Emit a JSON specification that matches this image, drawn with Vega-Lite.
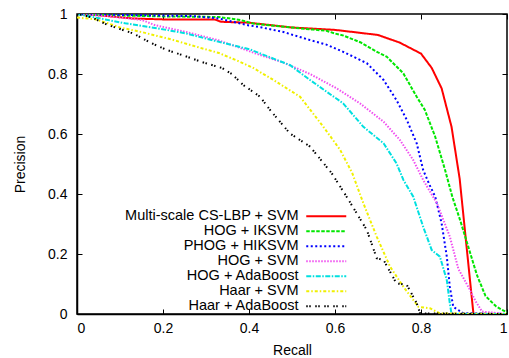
{
  "$schema": "https://vega.github.io/schema/vega-lite/v6.json",
  "width": 430,
  "height": 300,
  "autosize": {"type": "none"},
  "padding": {"left": 77, "top": 14, "right": 2, "bottom": 44},
  "background": "white",
  "config": {
    "font": "Liberation Sans",
    "view": {"stroke": "black", "strokeWidth": 1.5},
    "axis": {
      "grid": false,
      "labelFont": "Liberation Sans",
      "labelFontSize": 14,
      "labelColor": "black",
      "titleFont": "Liberation Sans",
      "titleFontSize": 14,
      "titleFontWeight": "normal",
      "titleColor": "black",
      "tickColor": "black",
      "tickSize": -5,
      "tickWidth": 1,
      "domainColor": "black",
      "domainWidth": 1.5
    },
    "legend": {
      "labelFont": "Liberation Sans",
      "labelFontSize": 14.5,
      "labelColor": "black",
      "labelLimit": 400,
      "labelAlign": "right",
      "labelOffset": -35,
      "symbolType": "M-4,0H4",
      "symbolSize": 100,
      "rowPadding": 0,
      "padding": 0
    }
  },
  "data": {
    "values": [
      {"method": "Multi-scale CS-LBP + SVM", "recall": 0, "precision": 1},
      {"method": "Multi-scale CS-LBP + SVM", "recall": 0.05, "precision": 0.996},
      {"method": "Multi-scale CS-LBP + SVM", "recall": 0.13, "precision": 0.985},
      {"method": "Multi-scale CS-LBP + SVM", "recall": 0.2, "precision": 0.982},
      {"method": "Multi-scale CS-LBP + SVM", "recall": 0.32, "precision": 0.982},
      {"method": "Multi-scale CS-LBP + SVM", "recall": 0.335, "precision": 0.974},
      {"method": "Multi-scale CS-LBP + SVM", "recall": 0.4, "precision": 0.971},
      {"method": "Multi-scale CS-LBP + SVM", "recall": 0.45, "precision": 0.963},
      {"method": "Multi-scale CS-LBP + SVM", "recall": 0.5, "precision": 0.955},
      {"method": "Multi-scale CS-LBP + SVM", "recall": 0.55, "precision": 0.951},
      {"method": "Multi-scale CS-LBP + SVM", "recall": 0.6, "precision": 0.947},
      {"method": "Multi-scale CS-LBP + SVM", "recall": 0.63, "precision": 0.942},
      {"method": "Multi-scale CS-LBP + SVM", "recall": 0.66, "precision": 0.937},
      {"method": "Multi-scale CS-LBP + SVM", "recall": 0.7, "precision": 0.93},
      {"method": "Multi-scale CS-LBP + SVM", "recall": 0.75, "precision": 0.905},
      {"method": "Multi-scale CS-LBP + SVM", "recall": 0.8, "precision": 0.868},
      {"method": "Multi-scale CS-LBP + SVM", "recall": 0.825, "precision": 0.82},
      {"method": "Multi-scale CS-LBP + SVM", "recall": 0.848, "precision": 0.752},
      {"method": "Multi-scale CS-LBP + SVM", "recall": 0.871, "precision": 0.624},
      {"method": "Multi-scale CS-LBP + SVM", "recall": 0.89, "precision": 0.45},
      {"method": "Multi-scale CS-LBP + SVM", "recall": 0.906, "precision": 0.224},
      {"method": "Multi-scale CS-LBP + SVM", "recall": 0.922, "precision": 0},

      {"method": "HOG + IKSVM", "recall": 0, "precision": 1},
      {"method": "HOG + IKSVM", "recall": 0.1, "precision": 0.995},
      {"method": "HOG + IKSVM", "recall": 0.2, "precision": 0.992},
      {"method": "HOG + IKSVM", "recall": 0.33, "precision": 0.99},
      {"method": "HOG + IKSVM", "recall": 0.38, "precision": 0.98},
      {"method": "HOG + IKSVM", "recall": 0.41, "precision": 0.968},
      {"method": "HOG + IKSVM", "recall": 0.45, "precision": 0.962},
      {"method": "HOG + IKSVM", "recall": 0.5, "precision": 0.955},
      {"method": "HOG + IKSVM", "recall": 0.549, "precision": 0.948},
      {"method": "HOG + IKSVM", "recall": 0.58, "precision": 0.944},
      {"method": "HOG + IKSVM", "recall": 0.6, "precision": 0.935},
      {"method": "HOG + IKSVM", "recall": 0.62, "precision": 0.928},
      {"method": "HOG + IKSVM", "recall": 0.66, "precision": 0.905},
      {"method": "HOG + IKSVM", "recall": 0.7, "precision": 0.872},
      {"method": "HOG + IKSVM", "recall": 0.72, "precision": 0.858},
      {"method": "HOG + IKSVM", "recall": 0.759, "precision": 0.802},
      {"method": "HOG + IKSVM", "recall": 0.79, "precision": 0.724},
      {"method": "HOG + IKSVM", "recall": 0.809, "precision": 0.68},
      {"method": "HOG + IKSVM", "recall": 0.833, "precision": 0.591},
      {"method": "HOG + IKSVM", "recall": 0.856, "precision": 0.48},
      {"method": "HOG + IKSVM", "recall": 0.873, "precision": 0.39},
      {"method": "HOG + IKSVM", "recall": 0.891, "precision": 0.313},
      {"method": "HOG + IKSVM", "recall": 0.91, "precision": 0.224},
      {"method": "HOG + IKSVM", "recall": 0.93, "precision": 0.13},
      {"method": "HOG + IKSVM", "recall": 0.95, "precision": 0.06},
      {"method": "HOG + IKSVM", "recall": 0.975, "precision": 0.025},
      {"method": "HOG + IKSVM", "recall": 1, "precision": 0.005},

      {"method": "PHOG + HIKSVM", "recall": 0, "precision": 1},
      {"method": "PHOG + HIKSVM", "recall": 0.1, "precision": 0.997},
      {"method": "PHOG + HIKSVM", "recall": 0.27, "precision": 0.993},
      {"method": "PHOG + HIKSVM", "recall": 0.33, "precision": 0.985},
      {"method": "PHOG + HIKSVM", "recall": 0.36, "precision": 0.975},
      {"method": "PHOG + HIKSVM", "recall": 0.4, "precision": 0.962},
      {"method": "PHOG + HIKSVM", "recall": 0.43, "precision": 0.955},
      {"method": "PHOG + HIKSVM", "recall": 0.48, "precision": 0.94},
      {"method": "PHOG + HIKSVM", "recall": 0.542, "precision": 0.913},
      {"method": "PHOG + HIKSVM", "recall": 0.58, "precision": 0.898},
      {"method": "PHOG + HIKSVM", "recall": 0.619, "precision": 0.874},
      {"method": "PHOG + HIKSVM", "recall": 0.674, "precision": 0.836},
      {"method": "PHOG + HIKSVM", "recall": 0.713, "precision": 0.78},
      {"method": "PHOG + HIKSVM", "recall": 0.743, "precision": 0.713},
      {"method": "PHOG + HIKSVM", "recall": 0.767, "precision": 0.647},
      {"method": "PHOG + HIKSVM", "recall": 0.79, "precision": 0.569},
      {"method": "PHOG + HIKSVM", "recall": 0.805, "precision": 0.48},
      {"method": "PHOG + HIKSVM", "recall": 0.82, "precision": 0.43},
      {"method": "PHOG + HIKSVM", "recall": 0.833, "precision": 0.391},
      {"method": "PHOG + HIKSVM", "recall": 0.848, "precision": 0.302},
      {"method": "PHOG + HIKSVM", "recall": 0.86, "precision": 0.191},
      {"method": "PHOG + HIKSVM", "recall": 0.867, "precision": 0.091},
      {"method": "PHOG + HIKSVM", "recall": 0.875, "precision": 0.024},
      {"method": "PHOG + HIKSVM", "recall": 0.898, "precision": 0.003},
      {"method": "PHOG + HIKSVM", "recall": 1, "precision": 0},

      {"method": "HOG + SVM", "recall": 0, "precision": 1},
      {"method": "HOG + SVM", "recall": 0.072, "precision": 0.993},
      {"method": "HOG + SVM", "recall": 0.151, "precision": 0.98},
      {"method": "HOG + SVM", "recall": 0.181, "precision": 0.963},
      {"method": "HOG + SVM", "recall": 0.251, "precision": 0.941},
      {"method": "HOG + SVM", "recall": 0.328, "precision": 0.913},
      {"method": "HOG + SVM", "recall": 0.414, "precision": 0.869},
      {"method": "HOG + SVM", "recall": 0.48, "precision": 0.838},
      {"method": "HOG + SVM", "recall": 0.542, "precision": 0.8},
      {"method": "HOG + SVM", "recall": 0.604, "precision": 0.752},
      {"method": "HOG + SVM", "recall": 0.658, "precision": 0.702},
      {"method": "HOG + SVM", "recall": 0.713, "precision": 0.641},
      {"method": "HOG + SVM", "recall": 0.751, "precision": 0.58},
      {"method": "HOG + SVM", "recall": 0.782, "precision": 0.513},
      {"method": "HOG + SVM", "recall": 0.805, "precision": 0.447},
      {"method": "HOG + SVM", "recall": 0.837, "precision": 0.369},
      {"method": "HOG + SVM", "recall": 0.867, "precision": 0.258},
      {"method": "HOG + SVM", "recall": 0.887, "precision": 0.15},
      {"method": "HOG + SVM", "recall": 0.914, "precision": 0.08},
      {"method": "HOG + SVM", "recall": 0.926, "precision": 0.045},
      {"method": "HOG + SVM", "recall": 0.942, "precision": 0.008},
      {"method": "HOG + SVM", "recall": 1, "precision": 0},

      {"method": "HOG + AdaBoost", "recall": 0, "precision": 1},
      {"method": "HOG + AdaBoost", "recall": 0.072, "precision": 0.98},
      {"method": "HOG + AdaBoost", "recall": 0.112, "precision": 0.969},
      {"method": "HOG + AdaBoost", "recall": 0.188, "precision": 0.952},
      {"method": "HOG + AdaBoost", "recall": 0.251, "precision": 0.936},
      {"method": "HOG + AdaBoost", "recall": 0.328, "precision": 0.908},
      {"method": "HOG + AdaBoost", "recall": 0.402, "precision": 0.882},
      {"method": "HOG + AdaBoost", "recall": 0.45, "precision": 0.855},
      {"method": "HOG + AdaBoost", "recall": 0.495, "precision": 0.83},
      {"method": "HOG + AdaBoost", "recall": 0.542, "precision": 0.78},
      {"method": "HOG + AdaBoost", "recall": 0.619, "precision": 0.702},
      {"method": "HOG + AdaBoost", "recall": 0.666, "precision": 0.624},
      {"method": "HOG + AdaBoost", "recall": 0.713, "precision": 0.569},
      {"method": "HOG + AdaBoost", "recall": 0.743, "precision": 0.502},
      {"method": "HOG + AdaBoost", "recall": 0.759, "precision": 0.447},
      {"method": "HOG + AdaBoost", "recall": 0.782, "precision": 0.391},
      {"method": "HOG + AdaBoost", "recall": 0.805, "precision": 0.291},
      {"method": "HOG + AdaBoost", "recall": 0.825, "precision": 0.213},
      {"method": "HOG + AdaBoost", "recall": 0.844, "precision": 0.191},
      {"method": "HOG + AdaBoost", "recall": 0.86, "precision": 0.113},
      {"method": "HOG + AdaBoost", "recall": 0.867, "precision": 0.036},
      {"method": "HOG + AdaBoost", "recall": 0.871, "precision": 0},
      {"method": "HOG + AdaBoost", "recall": 1, "precision": 0},

      {"method": "Haar + SVM", "recall": 0, "precision": 0.988},
      {"method": "Haar + SVM", "recall": 0.04, "precision": 0.983},
      {"method": "Haar + SVM", "recall": 0.07, "precision": 0.97},
      {"method": "Haar + SVM", "recall": 0.1, "precision": 0.955},
      {"method": "Haar + SVM", "recall": 0.15, "precision": 0.94},
      {"method": "Haar + SVM", "recall": 0.22, "precision": 0.915},
      {"method": "Haar + SVM", "recall": 0.28, "precision": 0.89},
      {"method": "Haar + SVM", "recall": 0.33, "precision": 0.87},
      {"method": "Haar + SVM", "recall": 0.38, "precision": 0.84},
      {"method": "Haar + SVM", "recall": 0.41, "precision": 0.82},
      {"method": "Haar + SVM", "recall": 0.457, "precision": 0.78},
      {"method": "Haar + SVM", "recall": 0.519, "precision": 0.724},
      {"method": "Haar + SVM", "recall": 0.573, "precision": 0.624},
      {"method": "Haar + SVM", "recall": 0.612, "precision": 0.547},
      {"method": "Haar + SVM", "recall": 0.64, "precision": 0.47},
      {"method": "Haar + SVM", "recall": 0.666, "precision": 0.369},
      {"method": "Haar + SVM", "recall": 0.697, "precision": 0.258},
      {"method": "Haar + SVM", "recall": 0.728, "precision": 0.158},
      {"method": "Haar + SVM", "recall": 0.759, "precision": 0.091},
      {"method": "Haar + SVM", "recall": 0.794, "precision": 0.024},
      {"method": "Haar + SVM", "recall": 0.821, "precision": 0.019},
      {"method": "Haar + SVM", "recall": 0.844, "precision": 0.002},
      {"method": "Haar + SVM", "recall": 1, "precision": 0},

      {"method": "Haar + AdaBoost", "recall": 0, "precision": 1},
      {"method": "Haar + AdaBoost", "recall": 0.014, "precision": 0.997},
      {"method": "Haar + AdaBoost", "recall": 0.04, "precision": 0.985},
      {"method": "Haar + AdaBoost", "recall": 0.069, "precision": 0.965},
      {"method": "Haar + AdaBoost", "recall": 0.1, "precision": 0.95},
      {"method": "Haar + AdaBoost", "recall": 0.131, "precision": 0.935},
      {"method": "Haar + AdaBoost", "recall": 0.17, "precision": 0.905},
      {"method": "Haar + AdaBoost", "recall": 0.209, "precision": 0.88},
      {"method": "Haar + AdaBoost", "recall": 0.251, "precision": 0.86},
      {"method": "Haar + AdaBoost", "recall": 0.29, "precision": 0.84},
      {"method": "Haar + AdaBoost", "recall": 0.337, "precision": 0.82},
      {"method": "Haar + AdaBoost", "recall": 0.36, "precision": 0.8},
      {"method": "Haar + AdaBoost", "recall": 0.387, "precision": 0.763},
      {"method": "Haar + AdaBoost", "recall": 0.426, "precision": 0.724},
      {"method": "Haar + AdaBoost", "recall": 0.449, "precision": 0.68},
      {"method": "Haar + AdaBoost", "recall": 0.495, "precision": 0.602},
      {"method": "Haar + AdaBoost", "recall": 0.542, "precision": 0.558},
      {"method": "Haar + AdaBoost", "recall": 0.592, "precision": 0.47},
      {"method": "Haar + AdaBoost", "recall": 0.627, "precision": 0.391},
      {"method": "Haar + AdaBoost", "recall": 0.674, "precision": 0.28},
      {"method": "Haar + AdaBoost", "recall": 0.697, "precision": 0.186},
      {"method": "Haar + AdaBoost", "recall": 0.713, "precision": 0.18},
      {"method": "Haar + AdaBoost", "recall": 0.743, "precision": 0.102},
      {"method": "Haar + AdaBoost", "recall": 0.767, "precision": 0.097},
      {"method": "Haar + AdaBoost", "recall": 0.79, "precision": 0.036},
      {"method": "Haar + AdaBoost", "recall": 0.798, "precision": 0.002},
      {"method": "Haar + AdaBoost", "recall": 1, "precision": 0}
    ]
  },
  "layer": [
    {
      "mark": {"type": "line", "clip": true},
      "encoding": {
        "x": {
          "field": "recall", "type": "quantitative", "title": "Recall",
          "scale": {"domain": [0, 1], "nice": false},
          "axis": {"values": [0, 0.2, 0.4, 0.6, 0.8, 1], "labelExpr": "'' + datum.value", "labelPadding": 12, "titlePadding": 8}
        },
        "y": {
          "field": "precision", "type": "quantitative", "title": "Precision",
          "scale": {"domain": [0, 1], "nice": false},
          "axis": {"values": [0, 0.2, 0.4, 0.6, 0.8, 1], "labelExpr": "'' + datum.value", "labelPadding": 15, "titlePadding": 20}
        },
        "color": {
          "field": "method", "type": "nominal", "title": null,
          "scale": {
            "domain": ["Multi-scale CS-LBP + SVM", "HOG + IKSVM", "PHOG + HIKSVM", "HOG + SVM", "HOG + AdaBoost", "Haar + SVM", "Haar + AdaBoost"],
            "range": ["#ff0000", "#00e600", "#0000ff", "#f050f0", "#00e0e0", "#f0f000", "#000000"]
          },
          "legend": {"orient": "none", "legendX": 242, "legendY": 195}
        },
        "strokeDash": {
          "field": "method", "type": "nominal", "title": null,
          "scale": {
            "domain": ["Multi-scale CS-LBP + SVM", "HOG + IKSVM", "PHOG + HIKSVM", "HOG + SVM", "HOG + AdaBoost", "Haar + SVM", "Haar + AdaBoost"],
            "range": [[1, 0], [3.5, 1.5], [2, 2.5], [1.5, 1.5], [5, 1.5, 1.5, 1.5], [3, 2, 1.5, 2], [1.5, 1.5, 1.5, 4.5]]
          },
          "legend": {"orient": "none", "legendX": 242, "legendY": 195}
        },
        "strokeWidth": {
          "field": "method", "type": "nominal", "title": null,
          "scale": {
            "domain": ["Multi-scale CS-LBP + SVM", "HOG + IKSVM", "PHOG + HIKSVM", "HOG + SVM", "HOG + AdaBoost", "Haar + SVM", "Haar + AdaBoost"],
            "range": [2, 2, 2, 1.5, 1.5, 1.5, 1.5]
          },
          "legend": {"orient": "none", "legendX": 242, "legendY": 195}
        }
      }
    },
    {
      "mark": {"type": "line", "opacity": 0},
      "encoding": {
        "x": {
          "field": "recall", "type": "quantitative",
          "axis": {"orient": "top", "values": [0, 0.2, 0.4, 0.6, 0.8, 1], "labels": false, "title": null, "domain": false}
        },
        "y": {
          "field": "precision", "type": "quantitative",
          "axis": {"orient": "right", "values": [0, 0.2, 0.4, 0.6, 0.8, 1], "labels": false, "title": null, "domain": false}
        },
        "detail": {"field": "method", "type": "nominal"}
      }
    }
  ],
  "resolve": {"axis": {"x": "independent", "y": "independent"}}
}
